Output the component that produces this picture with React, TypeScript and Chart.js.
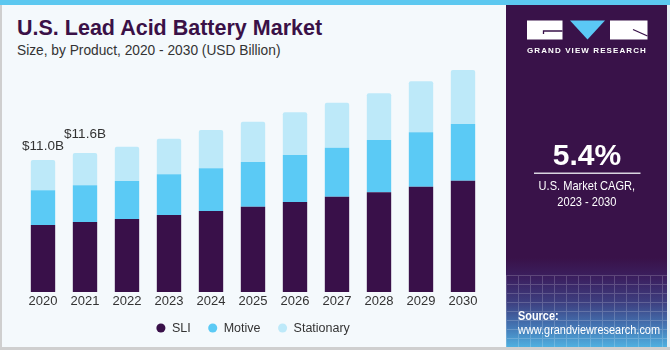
import React, { useEffect, useRef } from "react";
import { Chart, registerables } from "chart.js";

Chart.register(...registerables);

const years = ["2020", "2021", "2022", "2023", "2024", "2025", "2026", "2027", "2028", "2029", "2030"];
const sli = [5.58, 5.83, 6.08, 6.42, 6.75, 7.11, 7.5, 7.94, 8.31, 8.78, 9.28];
const motive = [2.9, 3.06, 3.17, 3.39, 3.56, 3.72, 3.92, 4.08, 4.36, 4.53, 4.72];
const stationary = [2.52, 2.69, 2.86, 2.97, 3.19, 3.36, 3.56, 3.75, 3.89, 4.25, 4.5];
const totalLabels = ["$11.0B", "$11.6B", "", "", "", "", "", "", "", "", ""];
const seriesNames = ["SLI", "Motive", "Stationary"];

const SANS = '"Liberation Sans", Arial, sans-serif';
const PURPLE = "#391249";

export default function App() {
  const ref = useRef<HTMLCanvasElement>(null);

  useEffect(() => {
    if (!ref.current) return;
    const lifts = [13.5, 19];
    const totalsPlugin = {
      id: "totals",
      afterDatasetsDraw(chart: any) {
        const ctx = chart.ctx;
        const meta = chart.getDatasetMeta(2);
        ctx.save();
        ctx.font = `13.5px ${SANS}`;
        ctx.fillStyle = "#333333";
        ctx.textAlign = "center";
        ctx.textBaseline = "middle";
        meta.data.forEach((bar: any, i: number) => {
          const t = totalLabels[i];
          if (!t) return;
          ctx.fillText(t, bar.x, bar.y - (lifts[i] ?? 15));
        });
        ctx.restore();
      },
    };
    const legendPlace = {
      id: "legendPlace",
      beforeLayout(chart: any) {
        const lg = chart.legend;
        if (lg && !lg.__patched) {
          const orig = lg.fit.bind(lg);
          lg.fit = function () {
            orig();
            this.height = 38.4;
          };
          lg.__patched = true;
        }
      },
      afterLayout(chart: any) {
        const lg = chart.legend;
        if (lg) {
          const shift = 7.1;
          lg.top -= shift;
          lg.bottom -= shift;
        }
      },
    };

    const chart = new Chart(ref.current, {
      type: "bar",
      data: {
        labels: years,
        datasets: [
          { label: seriesNames[0], data: sli, backgroundColor: "#391049" },
          { label: seriesNames[1], data: motive, backgroundColor: "#5bcaf5" },
          {
            label: seriesNames[2],
            data: stationary,
            backgroundColor: "#bde9f9",
            borderRadius: { topLeft: 2, topRight: 2, bottomLeft: 0, bottomRight: 0 },
            borderSkipped: false,
          },
        ],
      },
      options: {
        responsive: false,
        animation: false,
        layout: { padding: { left: 22, right: 21, top: 64, bottom: 0 } },
        datasets: { bar: { categoryPercentage: 1, barPercentage: 0.58 } },
        scales: {
          x: {
            stacked: true,
            grid: { display: false, drawTicks: false },
            border: { display: false },
            ticks: { font: { family: SANS, size: 13 }, color: "#333333", padding: 2 },
          },
          y: { stacked: true, display: false, min: 0, max: 19 },
        },
        plugins: {
          legend: {
            position: "bottom",
            labels: {
              usePointStyle: true,
              pointStyle: "circle",
              boxWidth: 9.5,
              boxHeight: 6.4,
              padding: 17.3,
              font: { family: SANS, size: 12.5 },
              color: "#333333",
            },
          },
          tooltip: { enabled: false },
        },
      },
      plugins: [totalsPlugin, legendPlace],
    } as any);
    return () => chart.destroy();
  }, []);

  const abs = (o: React.CSSProperties): React.CSSProperties => ({ position: "absolute", ...o });

  return (
    <div
      style={{
        position: "fixed",
        left: 0,
        top: 0,
        width: 670,
        height: 350,
        background: "#f4f9fc",
        overflow: "hidden",
      }}
    >
      <div style={abs({ left: 0, top: 0, width: 2, height: 350, background: "#cfcfcf" })} />
      <div style={abs({ left: 0, top: 347, width: 670, height: 3, background: "#cfcfcf" })} />
      <div style={abs({ left: 0, top: 0, width: 670, height: 5, background: "#5cc8f0" })} />

      <div
        style={abs({
          left: 17,
          top: 18,
          font: `bold 21.5px/21.5px ${SANS}`,
          color: "#3a1147",
          whiteSpace: "nowrap",
        })}
      >
        U.S. Lead Acid Battery Market
      </div>
      <div
        style={abs({
          left: 17,
          top: 42.3,
          font: `15px/15px ${SANS}`,
          color: "#333333",
          whiteSpace: "nowrap",
          transform: "scaleX(0.916)",
          transformOrigin: "0 0",
        })}
      >
        Size, by Product, 2020 - 2030 (USD Billion)
      </div>

      <canvas ref={ref} width={505} height={350} style={abs({ left: 0, top: 0, width: 505, height: 350 })} />

      <div
        style={abs({
          left: 506,
          top: 5,
          width: 161,
          height: 342,
          background: `linear-gradient(to bottom, ${PURPLE} 0%, ${PURPLE} 74%, #3b2060 80%, #3d3f80 87%, #4476b4 94%, #4fb0e0 100%)`,
        })}
      >
        <div
          style={abs({
            left: 0,
            top: 270,
            width: 161,
            height: 72,
            opacity: 0.18,
            backgroundImage:
              "repeating-linear-gradient(to right, #ffffff 0px, #ffffff 1px, transparent 1px, transparent 12px), repeating-linear-gradient(to bottom, #ffffff 0px, #ffffff 1px, transparent 1px, transparent 9px)",
          })}
        />
      </div>
      <div style={abs({ left: 667, top: 5, width: 3, height: 342, background: "#e6eff5" })} />

      <svg width={670} height={350} style={abs({ left: 0, top: 0 })}>
        <rect x={527} y={20.5} width={35.5} height={19} fill="#ffffff" />
        <path d="M562.5 31 H543.5 V34" stroke={PURPLE} strokeWidth={1.3} fill="none" />
        <polygon points="570,20.5 605,20.5 587.5,39.5" fill="#5bc8f5" />
        <rect x={610} y={20.5} width={37.5} height={19} fill="#ffffff" />
        <path d="M633 29.5 L647.5 36" stroke={PURPLE} strokeWidth={1.3} fill="none" />
        <line x1={534} y1={173.3} x2={640.5} y2={173.3} stroke="#d9d4e0" strokeWidth={1.4} />
      </svg>

      <div
        style={abs({
          left: 506,
          width: 162,
          top: 47.2,
          textAlign: "center",
          font: `bold 8px/8px ${SANS}`,
          letterSpacing: 1.1,
          color: "#ffffff",
          whiteSpace: "nowrap",
        })}
      >
        GRAND VIEW RESEARCH
      </div>
      <div
        style={abs({
          left: 506,
          width: 162,
          top: 140.3,
          textAlign: "center",
          font: `bold 30px/30px ${SANS}`,
          color: "#ffffff",
        })}
      >
        5.4%
      </div>
      <div
        style={abs({
          left: 587,
          width: 0,
          top: 178.3,
          display: "flex",
          justifyContent: "center",
        })}
      >
        <div
          style={{
            font: `13.5px/15.2px ${SANS}`,
            color: "#ffffff",
            textAlign: "center",
            whiteSpace: "nowrap",
            transform: "scaleX(0.82)",
            flex: "none",
          }}
        >
          U.S. Market CAGR,
          <br />
          2023 - 2030
        </div>
      </div>
      <div
        style={abs({
          left: 518,
          top: 309,
          font: `13px/14px ${SANS}`,
          color: "#ffffff",
          whiteSpace: "nowrap",
          transform: "scaleX(0.84)",
          transformOrigin: "0 0",
        })}
      >
        <b>Source:</b>
        <br />
        www.grandviewresearch.com
      </div>
    </div>
  );
}
